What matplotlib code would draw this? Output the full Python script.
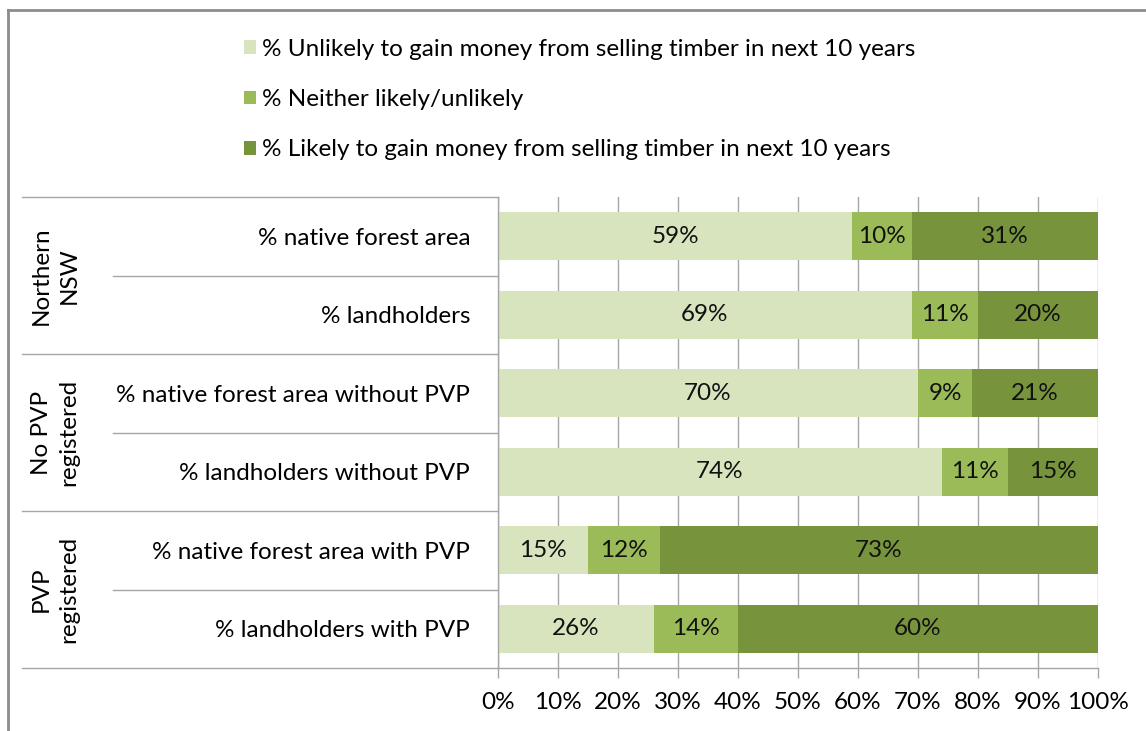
import numpy as np
import matplotlib.pyplot as plt
from matplotlib.lines import Line2D

plt.rcParams['font.family'] = ['Lato', 'DejaVu Sans']

rowLabels = ['% native forest area', '% landholders',
             '% native forest area without PVP', '% landholders without PVP',
             '% native forest area with PVP', '% landholders with PVP']
groupLabels = ['Northern\nNSW', 'No PVP\nregistered', 'PVP\nregistered']
seriesNames = ['% Unlikely to gain money from selling timber in next 10 years',
               '% Neither likely/unlikely',
               '% Likely to gain money from selling timber in next 10 years']
unlikely = [59, 69, 70, 74, 15, 26]
neither = [10, 11, 9, 11, 12, 14]
likely = [31, 20, 21, 15, 73, 60]
xTicks = [0, 10, 20, 30, 40, 50, 60, 70, 80, 90, 100]

colors = ['#D7E4BD', '#9BBB59', '#77933C']
gridColor = '#A6A6A6'
fs = 17.5

W, H = 1146, 731
fig = plt.figure(figsize=(W / 100, H / 100), dpi=100)
ax = fig.add_axes([498 / W, 1 - 668 / H, 600 / W, 471 / H])

y = np.arange(len(rowLabels))
left = np.zeros(len(rowLabels))
for vals, name, c in zip([unlikely, neither, likely], seriesNames, colors):
    vals = np.array(vals, dtype=float)
    bars = ax.barh(y, vals, left=left, height=0.61, color=c, label=name, zorder=2)
    ax.bar_label(bars, labels=['%d%%' % v for v in vals], label_type='center',
                 fontsize=fs, color='#111111')
    left += vals

ax.set_xlim(0, 100)
ax.set_ylim(len(rowLabels) - 0.5, -0.5)
ax.set_xticks(xTicks)
ax.set_xticklabels(['%d%%' % t for t in xTicks], fontsize=fs)
ax.set_yticks(y)
ax.set_yticklabels(rowLabels, fontsize=fs)
ax.tick_params(axis='y', length=0, pad=20)
ax.tick_params(axis='x', length=7, width=1, color=gridColor, pad=10)
ax.xaxis.grid(True, color=gridColor, linewidth=1, zorder=0)
ax.set_axisbelow(True)
for s in ['top', 'right']:
    ax.spines[s].set_visible(False)
for s in ['left', 'bottom']:
    ax.spines[s].set_color(gridColor)
    ax.spines[s].set_linewidth(1)

# category separators on the left
trans = ax.get_yaxis_transform()
for b in [-0.5, 1.5, 3.5, 5.5]:
    ax.add_line(Line2D([-476 / 600, 0], [b, b], transform=trans, color=gridColor,
                       linewidth=1, clip_on=False))
for b in [0.5, 2.5, 4.5]:
    ax.add_line(Line2D([-385 / 600, 0], [b, b], transform=trans, color=gridColor,
                       linewidth=1, clip_on=False))

# group labels
for i, g in enumerate(groupLabels):
    ax.text(-443 / 600, 2 * i + 0.5, g, transform=trans, rotation=90,
            ha='center', va='center', fontsize=fs, linespacing=1.4)

# legend
handles, labels = ax.get_legend_handles_labels()
fig.legend(handles, labels, loc='upper left', bbox_to_anchor=(244 / W, 1 - 39 / H),
           frameon=False, fontsize=fs, handlelength=0.5, handleheight=0.5,
           handletextpad=0.25, labelspacing=1.2, borderaxespad=0, borderpad=0)

# outer frame
fig.add_artist(Line2D([8 / W, 1], [1 - 10 / H, 1 - 10 / H], transform=fig.transFigure,
                      color='#8C8C8C', linewidth=2))
fig.add_artist(Line2D([8 / W, 8 / W], [0, 1 - 10 / H], transform=fig.transFigure,
                      color='#8C8C8C', linewidth=2))

fig.savefig('out.png', dpi=100)
